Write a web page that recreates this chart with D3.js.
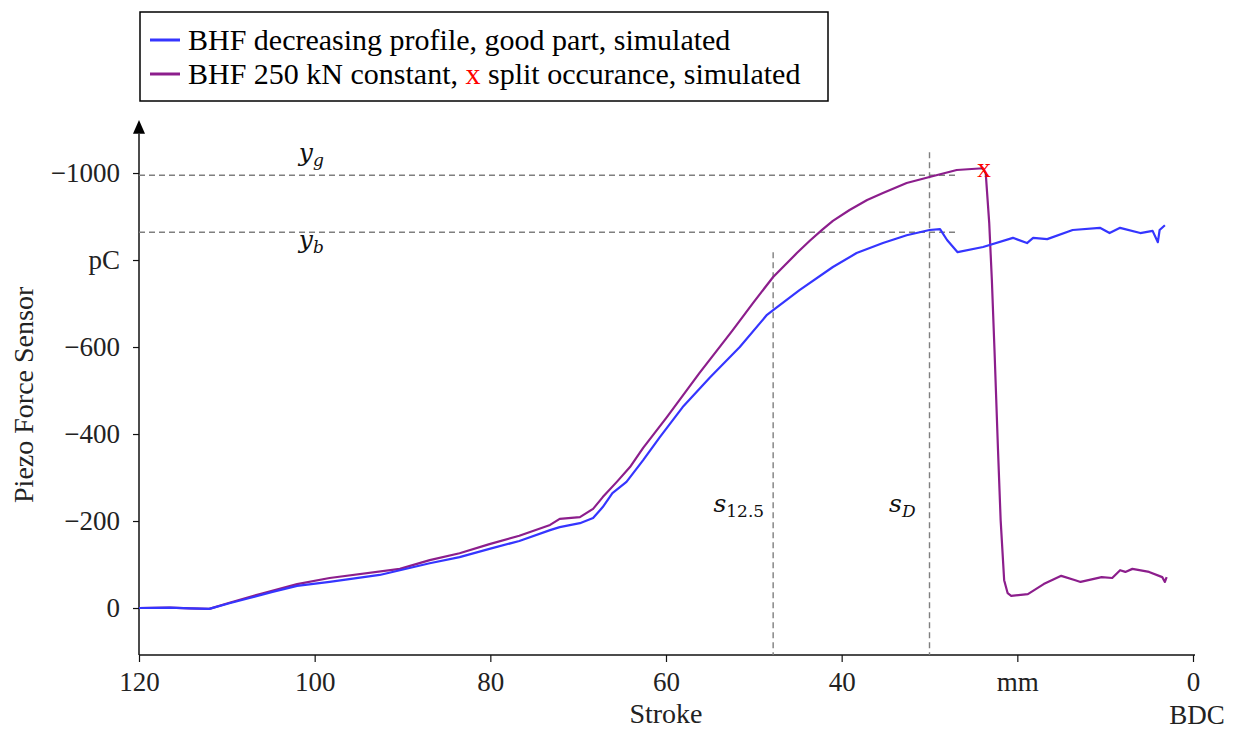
<!DOCTYPE html>
<html>
<head>
<meta charset="utf-8">
<script src="https://cdn.jsdelivr.net/npm/d3@7"></script>
<style>
  body { margin: 0; background: #fff; }
</style>
</head>
<body>
<svg width="1236" height="731"></svg>
<script>
// stroke (mm) and piezo signal (pC)
const goodStroke = [120, 116.5, 114.2, 112, 109.7, 107.4, 104.8, 102, 98.3, 92.6, 86.9, 83.5, 80.1, 76.7, 73.2, 72.1, 69.8, 68.3, 67.2, 66.1, 64.5, 62.6, 60.7, 58.1, 55, 51.6, 48.5, 47.8, 44.8, 41, 38.3, 35.3, 32.6, 30, 28.8, 28, 26.8, 23.9, 20.5, 18.9, 18.2, 16.6, 13.7, 10.6, 9.5, 8.3, 6, 4.6, 4, 3.8, 3.2]
const goodValue = [0, -1, 1, 2, -11, -23, -37, -51, -60, -76, -103, -117, -136, -154, -179, -186, -195, -207, -232, -264, -290, -340, -393, -462, -530, -600, -674, -685, -731, -784, -816, -839, -857, -869, -871, -846, -818, -830, -851, -839, -851, -848, -869, -874, -862, -874, -862, -867, -841, -869, -880]

const splitStroke = [120, 116.5, 114.2, 112, 109.7, 105.9, 102, 98.3, 90.3, 86.9, 83.5, 80.1, 76.7, 73.2, 72.1, 69.8, 68.3, 67.2, 65.6, 64.1, 62.6, 59.9, 56.2, 52.4, 50.1, 47.8, 45.1, 43.6, 42.2, 41, 39.1, 37.1, 35.3, 32.6, 30, 26.9, 23.9, 23.6, 23.2, 22.9, 22.6, 22.2, 21.9, 21.5, 21.1, 20.7, 18.8, 17, 15, 13.4, 12.8, 10.4, 9.2, 8.3, 7.7, 6.9, 5, 3.5, 3.2, 3]
const splitValue = [0, -1, 1, 2, -12, -34, -55, -69, -90, -110, -126, -147, -166, -191, -205, -209, -228, -255, -290, -324, -368, -439, -540, -639, -701, -761, -816, -845, -870, -890, -915, -938, -954, -977, -991, -1007, -1011, -1000, -885, -754, -593, -363, -202, -64, -34, -28, -32, -55, -74, -64, -60, -71, -69, -87, -83, -90, -83, -71, -60, -71]

const splitPoint = [23.8, -1011]

const xTicks = [120, 100, 80, 60, 40, 20, 0]
const xTickLabels = ['120', '100', '80', '60', '40', 'mm', '0']
const yTicks = [0, -200, -400, -600, -800, -1000]
const yTickLabels = ['0', '\u2212200', '\u2212400', '\u2212600', 'pC', '\u22121000']

// reference levels
const levelValues = [-995, -864]      // y_g, y_b
const levelEnd = 26.8
const strokeMarks = [47.8, 30]        // s_12.5, s_D
const strokeMarkTop = [-818, -1048]

const serif = '"Liberation Serif", "Times New Roman", serif'

const svg = d3.select('svg')

const x = d3.scaleLinear().domain([120, 0]).range([139, 1193])
const y = d3.scaleLinear().domain([108, -1115]).range([655, 123])

const blue = '#3535ff'
const purple = '#8c1e8c'

// x axis
const xAxis = svg.append('g')
  .attr('transform', `translate(0, ${y(108)})`)
  .call(d3.axisBottom(x).tickValues(xTicks).tickSize(7).tickPadding(10)
    .tickFormat((d, i) => xTickLabels[i]))
xAxis.attr('font-family', serif)
xAxis.select('.domain').attr('stroke', '#111').attr('stroke-width', 1.5).attr('d', `M${x(120)},0H${x(0) + 2}`)
xAxis.selectAll('.tick line').attr('stroke', '#111').attr('stroke-width', 1.2)
xAxis.selectAll('.tick text').attr('font-size', 27).attr('fill', '#222')

// y axis
const yAxis = svg.append('g')
  .attr('transform', `translate(${x(120)}, 0)`)
  .call(d3.axisLeft(y).tickValues(yTicks).tickSize(6).tickPadding(13)
    .tickFormat((d, i) => yTickLabels[i]))
yAxis.attr('font-family', serif)
yAxis.select('.domain').attr('stroke', '#111').attr('stroke-width', 1.5).attr('d', `M0,${y(108)}V${y(-1090)}`)
yAxis.selectAll('.tick line').attr('stroke', '#111').attr('stroke-width', 1.2)
yAxis.selectAll('.tick text').attr('font-size', 27).attr('fill', '#222')

// arrow on top of the y axis
svg.append('path')
  .attr('d', `M${x(120) - 6},${y(-1090)}L${x(120)},${y(-1122)}L${x(120) + 6},${y(-1090)}Z`)
  .attr('fill', '#000')

// dashed guides
svg.selectAll('.hguide')
  .data(levelValues)
  .enter()
  .append('line')
  .attr('x1', x(120)).attr('x2', x(levelEnd))
  .attr('y1', d => y(d)).attr('y2', d => y(d))
  .attr('stroke', '#7f7f7f').attr('stroke-width', 1.4).attr('stroke-dasharray', '6,4')

svg.selectAll('.vguide')
  .data(strokeMarks)
  .enter()
  .append('line')
  .attr('x1', d => x(d)).attr('x2', d => x(d))
  .attr('y1', (d, i) => y(strokeMarkTop[i])).attr('y2', y(108))
  .attr('stroke', '#7f7f7f').attr('stroke-width', 1.4).attr('stroke-dasharray', '6,4')

// curves
const line = d3.line()
  .x(d => x(d[0]))
  .y(d => y(d[1]))

svg.append('path')
  .datum(d3.zip(splitStroke, splitValue))
  .attr('d', line)
  .attr('fill', 'none')
  .attr('stroke', purple)
  .attr('stroke-width', 2.2)
  .attr('stroke-linejoin', 'round')

svg.append('path')
  .datum(d3.zip(goodStroke, goodValue))
  .attr('d', line)
  .attr('fill', 'none')
  .attr('stroke', blue)
  .attr('stroke-width', 2.2)
  .attr('stroke-linejoin', 'round')

// split marker
svg.append('text')
  .attr('x', x(splitPoint[0]))
  .attr('y', y(splitPoint[1]) + 9)
  .attr('text-anchor', 'middle')
  .attr('font-family', serif)
  .attr('font-size', 28)
  .attr('fill', '#ff0000')
  .text('x')

// math labels
const mathFont = '"DejaVu Serif", serif'
function mathLabel(px, py, main, sub, subItalic) {
  const t = svg.append('text')
    .attr('x', px).attr('y', py)
    .attr('font-family', mathFont)
    .attr('font-size', 25)
    .attr('fill', '#111')
  t.append('tspan').attr('font-style', 'italic').text(main)
  t.append('tspan')
    .attr('dy', 5)
    .attr('font-size', 17)
    .attr('font-style', subItalic ? 'italic' : 'normal')
    .text(sub)
}
mathLabel(x(101.8), y(levelValues[0]) - 14, 'y', 'g', true)
mathLabel(x(101.8), y(levelValues[1]) + 16, 'y', 'b', true)
mathLabel(x(54.6), y(-220), 's', '12.5', false)
mathLabel(x(34.6), y(-220), 's', 'D', true)

// axis titles
svg.append('text')
  .attr('transform', `translate(33, ${y(-490)}) rotate(-90)`)
  .attr('text-anchor', 'middle')
  .attr('font-family', serif)
  .attr('font-size', 28)
  .attr('fill', '#222')
  .text('Piezo Force Sensor')

svg.append('text')
  .attr('x', x(60))
  .attr('y', 723)
  .attr('text-anchor', 'middle')
  .attr('font-family', serif)
  .attr('font-size', 28)
  .attr('fill', '#222')
  .text('Stroke')

svg.append('text')
  .attr('x', 1197)
  .attr('y', 724)
  .attr('text-anchor', 'middle')
  .attr('font-family', serif)
  .attr('font-size', 27)
  .attr('fill', '#222')
  .text('BDC')

// legend
const legend = svg.append('g')
legend.append('rect')
  .attr('x', 140).attr('y', 12).attr('width', 688).attr('height', 89)
  .attr('fill', '#fff').attr('stroke', '#000').attr('stroke-width', 1.5)

const legendRows = [
  { color: blue, parts: [['BHF decreasing profile, good part, simulated', '#000']] },
  { color: purple, parts: [['BHF 250 kN constant, ', '#000'], ['x', '#ff0000'], [' split occurance, simulated', '#000']] }
]
legendRows.forEach((row, i) => {
  const cy = 40 + i * 34
  legend.append('line')
    .attr('x1', 150).attr('x2', 180)
    .attr('y1', cy).attr('y2', cy)
    .attr('stroke', row.color).attr('stroke-width', 3)
  const t = legend.append('text')
    .attr('x', 188).attr('y', cy + 10)
    .attr('font-family', serif)
    .attr('font-size', 30)
  row.parts.forEach(p => t.append('tspan').attr('fill', p[1]).text(p[0]))
})
</script>
</body>
</html>
